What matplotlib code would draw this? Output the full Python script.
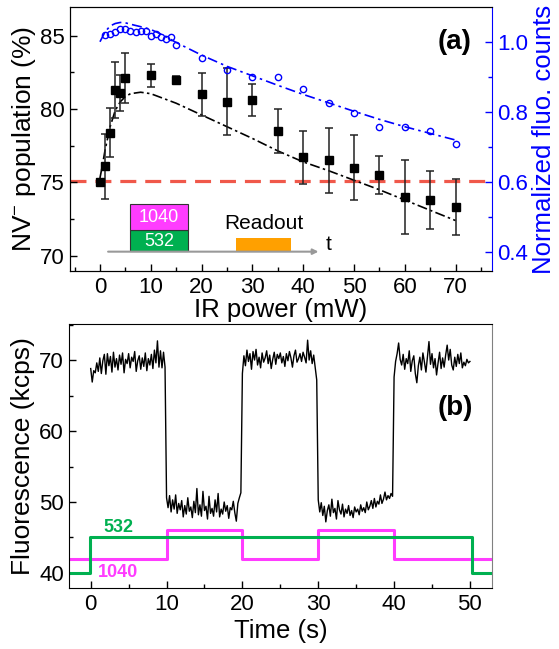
import numpy as np
import matplotlib
matplotlib.use('Agg')
import matplotlib.pyplot as plt
from matplotlib.patches import Rectangle
from matplotlib.ticker import MultipleLocator

plt.rcParams['font.family'] = 'Liberation Sans'
plt.rcParams['mathtext.fontset'] = 'custom'
plt.rcParams['mathtext.rm'] = 'Liberation Sans'
plt.rcParams['mathtext.it'] = 'Liberation Sans:italic'

# --- (a) NV- population vs IR power ---
ir_power = [0, 1, 2, 3, 4, 5, 10, 15, 20, 25, 30, 35, 40, 45, 50, 55, 60, 65, 70]
nv_pop = [75.0, 76.1, 78.4, 81.3, 81.1, 82.1, 82.3, 82.0, 81.0, 80.5, 80.6,
          78.5, 76.7, 76.5, 76.0, 75.5, 74.0, 73.8, 73.3]
nv_err = [0.2, 2.2, 1.7, 1.9, 1.2, 1.7, 0.8, 0.25, 1.45, 2.3, 1.1,
          1.5, 1.8, 2.2, 2.2, 1.3, 2.5, 2.0, 1.9]

nv_fit_x = [0, 0.5, 1, 1.5, 2, 3, 4, 5, 6, 8, 10, 15, 20, 25, 30, 35, 40,
            45, 50, 55, 60, 65, 70]
nv_fit_y = [75.3, 76.2, 77.2, 78.0, 78.8, 79.9, 80.5, 80.85, 81.05, 81.15,
            81.05, 80.4, 79.6, 78.8, 78.0, 77.15, 76.4, 75.8, 75.15, 74.5,
            73.8, 73.1, 72.4]

fluo_power = [1, 2, 3, 4, 5, 6, 7, 8, 9, 10, 11, 12, 13, 14, 15, 20, 25, 30,
              35, 40, 45, 50, 55, 60, 65, 70]
fluo_norm = [1.019, 1.021, 1.028, 1.035, 1.036, 1.030, 1.027, 1.031, 1.030,
             1.016, 1.021, 1.014, 1.007, 1.014, 0.991, 0.953, 0.920, 0.900,
             0.900, 0.865, 0.825, 0.798, 0.756, 0.758, 0.747, 0.709]

fluo_fit_x = [0, 1, 2, 3, 4, 5, 6, 8, 10, 12, 14, 15, 20, 25, 30, 35, 40,
              45, 50, 55, 60, 65, 70]
fluo_fit_y = [1.000, 1.028, 1.045, 1.052, 1.055, 1.054, 1.050, 1.043, 1.035,
              1.022, 1.006, 0.998, 0.962, 0.930, 0.903, 0.876, 0.850, 0.826,
              0.802, 0.779, 0.758, 0.739, 0.720]

threshold = 75.1

# --- (b) fluorescence trace, sampled every 0.2 s ---
fluo_kcps = [
    68.8, 66.9, 68.5, 68.2, 69.6, 68.4, 70.3, 68.1, 69.9, 70.8,
    68.0, 70.9, 69.2, 70.5, 68.3, 71.1, 69.0, 70.2, 68.6, 70.7,
    69.4, 71.0, 68.2, 70.1, 69.5, 70.9, 68.9, 70.4, 69.8, 71.2,
    68.4, 69.9, 70.6, 68.7, 70.3, 69.1, 71.0, 68.5, 70.2, 69.3,
    70.8, 68.8, 71.4, 69.6, 72.7, 69.0, 71.3, 68.9, 71.1, 69.0,
    50.6, 49.2, 50.9, 48.6, 50.3, 49.0, 51.0, 48.4, 49.8, 48.9,
    50.2, 47.9, 49.5, 48.3, 50.6, 48.7, 49.3, 47.8, 50.1, 48.5,
    51.9, 48.2, 49.6, 48.0, 51.5, 48.8, 49.4, 47.6, 50.8, 48.4,
    49.1, 48.0, 50.3, 48.6, 51.2, 47.9, 49.0, 48.3, 50.0, 48.7,
    49.5, 47.7, 49.2, 48.9, 50.1, 48.5, 47.3, 49.8, 50.6, 51.3,
    68.1, 70.6, 69.2, 71.4, 69.8, 70.9, 68.7, 71.2, 70.0, 71.5,
    69.3, 70.4, 68.9, 71.0, 69.7, 70.3, 71.3, 69.5, 70.7, 68.8,
    70.1, 71.1, 69.4, 70.8, 70.2, 71.0, 69.6, 70.5, 69.1, 70.9,
    69.9, 71.2, 70.3, 69.0, 70.6, 71.4, 69.7, 70.2, 70.9, 69.8,
    71.1, 70.4, 69.6, 72.8, 70.0, 71.3, 69.5, 70.7, 68.9, 67.2,
    50.3, 48.6, 49.9, 48.1, 49.4, 47.2, 48.8, 49.6, 48.0, 50.4,
    48.5, 49.1, 47.6, 50.2, 48.9, 48.3, 49.7, 47.9, 49.0, 48.4,
    49.5, 48.1, 48.8, 47.8, 49.3, 48.6, 49.0, 48.2, 49.6, 48.7,
    49.2, 48.5, 50.0, 48.9, 49.4, 50.2, 49.1, 50.5, 49.3, 50.1,
    49.7, 51.0, 49.8, 50.4, 51.4, 50.3, 50.9, 50.5, 51.2, 50.8,
    67.6, 69.8, 70.9, 72.4, 70.1, 69.3, 70.8, 68.7, 70.2, 69.5,
    71.3, 68.4, 69.9, 70.6, 68.1, 66.8, 69.2, 70.4, 68.6, 71.0,
    69.7, 68.3, 70.5, 72.6, 69.4, 70.9, 68.9, 70.2, 67.9, 69.6,
    71.1, 68.8, 70.3, 69.0, 70.7, 72.1, 70.0, 71.5, 69.3, 68.6,
    70.4, 69.1, 70.8, 69.5, 71.0, 68.9, 69.7, 69.2, 70.1, 69.6,
    69.8,
]
sample_dt = 0.2

# laser on/off levels (step changes at the listed times)
green_t = [-2.8, -0.1, 50.3, 52.6]
green_lvl = [40, 45, 40, 40]
ir_t = [-2.8, 10, 20, 30, 40, 53]
ir_lvl = [42, 46, 42, 46, 42, 42]

GREEN = '#00b050'
MAGENTA = '#ff3cff'
BLUE = '#0000ff'
RED = '#f0584a'
ORANGE = '#ffa000'

TICK_FS = 16
YLABEL_FS = 19
XLABEL_FS = 18.5

fig = plt.figure(figsize=(5.59, 6.49), dpi=100)
ax1 = fig.add_axes([0.1252, 0.5824, 0.7544, 0.4068])
ax2 = ax1.twinx()
ax3 = fig.add_axes([0.124, 0.0935, 0.756, 0.4073])

# panel (a)
ax1.axhline(threshold, color=RED, lw=2.3, dashes=(5, 2.8), zorder=1)
ax1.plot(nv_fit_x, nv_fit_y, color='k', lw=1.2, dashes=(6, 2, 1.5, 2))
ax1.errorbar(ir_power, nv_pop, yerr=nv_err, fmt='s', color='k', ms=5.5,
             ecolor='#222222', elinewidth=1.1, capsize=3, capthick=1.1)

ax2.plot(fluo_fit_x, fluo_fit_y, color=BLUE, lw=1.2, dashes=(6, 2.5, 1.5, 2.5))
ax2.plot(fluo_power, fluo_norm, 'o', mfc='none', mec=BLUE, ms=4.5, mew=1.0)

# pulse sequence sketch
ax1.add_patch(Rectangle((5.9, 70.32), 11.5, 1.43, fc=GREEN, ec='#333333', lw=0.8))
ax1.add_patch(Rectangle((5.9, 71.75), 11.5, 1.78, fc=MAGENTA, ec='#333333', lw=0.8))
ax1.add_patch(Rectangle((26.8, 70.32), 10.8, 0.87, fc=ORANGE, ec='none'))
ax1.annotate('', xy=(43.0, 70.28), xytext=(1.6, 70.28),
             arrowprops=dict(arrowstyle='-|>', color='#999999', lw=1.5,
                             mutation_scale=8, shrinkA=0, shrinkB=0))
ax1.text(11.6, 72.64, '1040', color='white', ha='center', va='center', fontsize=13)
ax1.text(11.7, 71.0, '532', color='white', ha='center', va='center', fontsize=13)
ax1.text(32.3, 72.2, 'Readout', ha='center', va='center', fontsize=15)
ax1.text(44.9, 70.75, 't', ha='center', va='center', fontsize=15)
ax1.text(0.913, 0.869, '(a)', transform=ax1.transAxes, fontsize=20,
         fontweight='bold', ha='center', va='center')

ax1.set_xlim(-5.9, 77.1)
ax1.set_ylim(68.96, 86.96)
ax2.set_ylim(0.347, 1.099)
ax1.xaxis.set_major_locator(MultipleLocator(10))
ax1.xaxis.set_minor_locator(MultipleLocator(5))
ax1.yaxis.set_major_locator(MultipleLocator(5))
ax1.yaxis.set_minor_locator(MultipleLocator(2.5))
ax2.yaxis.set_major_locator(MultipleLocator(0.2))
ax2.yaxis.set_minor_locator(MultipleLocator(0.1))

ax1.tick_params(which='both', direction='in', top=False, right=False,
                labelsize=TICK_FS, width=1)
ax1.tick_params(which='major', length=5, pad=4)
ax1.tick_params(which='minor', length=3)
ax2.tick_params(axis='y', which='both', direction='in', colors=BLUE,
                labelsize=TICK_FS, width=1)
ax2.tick_params(axis='y', which='major', length=5, pad=4)
ax2.tick_params(axis='y', which='minor', length=3)
ax1.spines['right'].set_visible(False)
ax2.spines['right'].set_color(BLUE)

ax1.set_xlabel('IR power (mW)', fontsize=XLABEL_FS, labelpad=0)
ax1.set_ylabel(r'NV$^{-}$ population (%)', fontsize=YLABEL_FS, labelpad=1)
ax2.set_ylabel('Normalized fluo. counts', fontsize=XLABEL_FS, color=BLUE, labelpad=3)

# panel (b)
t = np.arange(len(fluo_kcps)) * sample_dt
ax3.step(ir_t, ir_lvl, where='post', color=MAGENTA, lw=2.2)
ax3.step(green_t, green_lvl, where='post', color=GREEN, lw=2.2)
ax3.plot(t, fluo_kcps, color='k', lw=1.0)
ax3.text(3.6, 46.4, '532', color=GREEN, fontsize=13, fontweight='bold',
         ha='center', va='center')
ax3.text(3.6, 40.0, '1040', color=MAGENTA, fontsize=13, fontweight='bold',
         ha='center', va='center')
ax3.text(0.914, 0.681, '(b)', transform=ax3.transAxes, fontsize=20,
         fontweight='bold', ha='center', va='center')

ax3.set_xlim(-2.82, 52.9)
ax3.set_ylim(37.84, 75.08)
ax3.xaxis.set_major_locator(MultipleLocator(10))
ax3.xaxis.set_minor_locator(MultipleLocator(5))
ax3.yaxis.set_major_locator(MultipleLocator(10))
ax3.yaxis.set_minor_locator(MultipleLocator(5))
ax3.tick_params(which='both', direction='in', top=False, right=False,
                labelsize=TICK_FS, width=1)
ax3.tick_params(which='major', length=5, pad=4)
ax3.tick_params(which='minor', length=3)
ax3.spines['right'].set_color('#808080')
ax3.set_xlabel('Time (s)', fontsize=XLABEL_FS, labelpad=3)
ax3.set_ylabel('Fluorescence (kcps)', fontsize=YLABEL_FS, labelpad=3)

fig.savefig('out.png', dpi=100)
